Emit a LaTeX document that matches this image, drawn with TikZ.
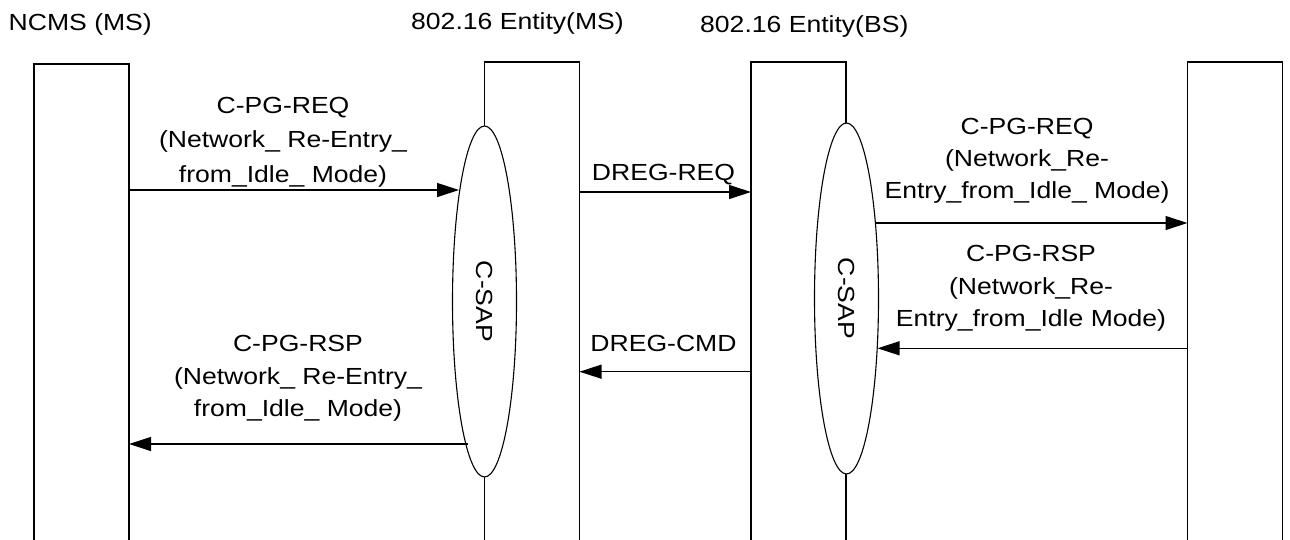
\documentclass[tikz,border=0pt]{standalone}
\usepackage{fontspec}
\setmainfont{Liberation Sans}[FakeStretch=1.14]
\usepackage{graphicx}
\usetikzlibrary{shapes,arrows.meta,positioning,calc}

\tikzset{
  lane/.style={draw, line width=1.1pt, minimum width=95pt, minimum height=520pt,
    inner sep=0pt, outer sep=0pt, anchor=north west},
  sap/.style={draw, fill=white, ellipse, line width=1.1pt, minimum width=64pt,
    minimum height=351pt, inner sep=0pt, font=\fontsize{23.3}{28}\selectfont},
  msg/.style={line width=1.1pt, -{Triangle[length=22pt,width=14pt]}},
  hdr/.style={inner sep=0pt, anchor=base west, font=\fontsize{23.3}{28}\selectfont},
  lbl/.style={inner sep=0pt, anchor=base, align=center, font=\fontsize{23.3}{32.5}\selectfont},
}

\begin{document}
\begin{tikzpicture}[x=1pt, y=-1pt]
\useasboundingbox (0,0) rectangle (1290,539);
\clip (0,0) rectangle (1290,539);
% lanes
\node[lane] (ncms) at (34,64) {};
\node[lane] (ms) at (484.5,62) {};
\node[lane] (bs) at (751,62) {};
\node[lane] (peer) at (1187.5,62) {};
% headers
\node[hdr] (hncms) at (8.5,30) {NCMS (MS)};
\node[hdr] (hms) at (411,29.5) {802.16 Entity(MS)};
\node[hdr] (hbs) at (700,32) {802.16 Entity(BS)};
% service access points
\node[sap] (sap1) at (484.5,301.5) {\rotatebox{-90}{C-SAP}};
\node[sap] (sap2) at (846.5,298.5) {\rotatebox{-90}{C-SAP}};
% where the messages meet the C-SAP
\coordinate (in1) at ($(sap1.center)+(-25.5,-111.5)$);
\coordinate (out1) at ($(sap1.center)+(-17,142.5)$);
\coordinate (out2) at ($(sap2.center)+(28.5,-75.5)$);
\coordinate (in2) at ($(sap2.center)+(31,49.8)$);
% messages
\draw[msg] (ncms.east |- in1) -- (in1);
\draw[msg] ([yshift=-130pt]ms.north east) -- ([yshift=-130pt]bs.north west);
\draw[msg] (out2) -- (peer.west |- out2);
\draw[msg] (peer.west |- in2) -- (in2);
\draw[msg] ([yshift=-309.7pt]bs.north west) -- ([yshift=-309.7pt]ms.north east);
\draw[msg] (out1) -- (ncms.east |- out1);
% labels (anchored on the last line)
\node[lbl, font=\fontsize{23.3}{34.5}\selectfont] (lreq1) at (283,182)
  {C-PG-REQ\\(Network\_ Re-Entry\_\\from\_Idle\_ Mode)};
\node[lbl] (ldreq) at (663.5,180) {DREG-REQ};
\node[lbl, font=\fontsize{23.3}{31.7}\selectfont] (lreq2) at (1027,198)
  {C-PG-REQ\\(Network\_Re-\\Entry\_from\_Idle\_ Mode)};
\node[lbl] (lrsp2) at (1031,326.7)
  {C-PG-RSP\\(Network\_Re-\\Entry\_from\_Idle Mode)};
\node[lbl] (ldcmd) at (663.5,351.7) {DREG-CMD};
\node[lbl] (lrsp1) at (298,416.7)
  {C-PG-RSP\\(Network\_ Re-Entry\_\\from\_Idle\_ Mode)};
\end{tikzpicture}
\end{document}
